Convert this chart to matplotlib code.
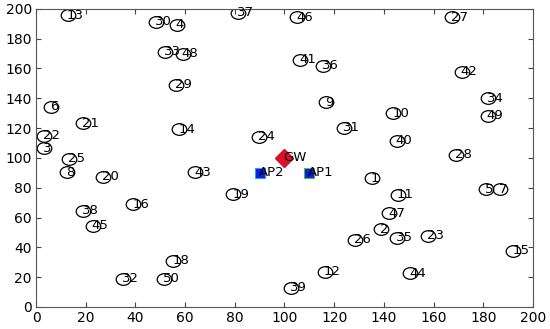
import matplotlib
matplotlib.use('Agg')
import matplotlib.pyplot as plt
from matplotlib.path import Path
from matplotlib.transforms import Affine2D

# sensor nodes (id, x, y)
node_id = [1, 2, 3, 4, 5, 6, 7, 8, 9, 10,
           11, 12, 13, 14, 15, 16, 18, 19, 20,
           21, 22, 23, 24, 25, 26, 27, 28, 29, 30,
           31, 32, 33, 34, 35, 36, 37, 38, 39, 40,
           41, 42, 43, 44, 45, 46, 47, 48, 49, 50]
node_x = [135.1, 138.8, 3.1, 56.6, 181.1, 6.0, 186.7, 12.4, 116.6, 143.8,
          145.5, 116.3, 12.7, 57.7, 192.1, 39.2, 55.3, 79.4, 27.1,
          19.0, 3.1, 157.9, 89.9, 13.2, 128.4, 167.3, 169.0, 56.3, 48.2,
          123.9, 35.1, 51.9, 181.8, 145.1, 115.4, 81.2, 18.8, 102.6, 145.1,
          106.2, 171.3, 64.0, 150.5, 22.8, 105.2, 142.2, 59.0, 181.8, 51.6]
node_y = [86.4, 52.1, 106.5, 189.3, 79.0, 134.4, 79.0, 90.4, 137.4, 130.0,
          75.2, 23.7, 195.8, 119.3, 37.8, 68.9, 31.1, 75.6, 87.5,
          123.3, 114.8, 47.7, 114.3, 99.3, 45.0, 194.4, 102.0, 149.0, 191.3,
          120.3, 18.8, 171.4, 140.0, 46.5, 162.0, 197.5, 64.4, 13.0, 111.4,
          165.8, 157.9, 90.4, 22.6, 54.4, 194.4, 62.9, 169.8, 128.2, 18.8]

# gateway and access points
gw_x, gw_y = 100, 100
ap_names = ['AP1', 'AP2']
ap_x = [110, 90]
ap_y = [90, 90]

plt.rcParams['font.family'] = ['DejaVu Sans']

fig = plt.figure(figsize=(5.5, 3.29), dpi=100)
ax = fig.add_axes([0.0655, 0.067, 0.9035, 0.906])

# slightly flattened circle, as in the picture
ellipse = Path.unit_circle().transformed(Affine2D().scale(1.0, 0.8))

ax.plot(node_x, node_y, linestyle='none', marker=ellipse, markersize=10.5,
        markerfacecolor='none', markeredgecolor='black', markeredgewidth=0.9)
for i, x, y in zip(node_id, node_x, node_y):
    ax.text(x - 0.4, y, str(i), fontsize=9.5, ha='left', va='center')

ax.plot(gw_x, gw_y, linestyle='none', marker='D', markersize=9.5,
        markerfacecolor='#e0102a', markeredgecolor='#c8102a')
ax.text(gw_x - 0.4, gw_y, 'GW', fontsize=9.5, ha='left', va='center')

ap_edges = ['#55bb33', '#3399ff']
for name, x, y, ec in zip(ap_names, ap_x, ap_y, ap_edges):
    ax.plot(x, y, linestyle='none', marker='s', markersize=6.5,
            markerfacecolor='#0a1ee6', markeredgecolor=ec, markeredgewidth=0.8)
    ax.text(x - 0.4, y, name, fontsize=9.5, ha='left', va='center')

ax.set_xlim(0, 200)
ax.set_ylim(0, 200)
ax.set_xticks(range(0, 201, 20))
ax.set_yticks(range(0, 201, 20))
ax.tick_params(direction='in', top=True, right=True, labelsize=10,
               length=3.5, width=0.8, color='#444444', pad=3)
for s in ax.spines.values():
    s.set_color('#555555')
    s.set_linewidth(0.8)

fig.savefig('out.png', dpi=100)
